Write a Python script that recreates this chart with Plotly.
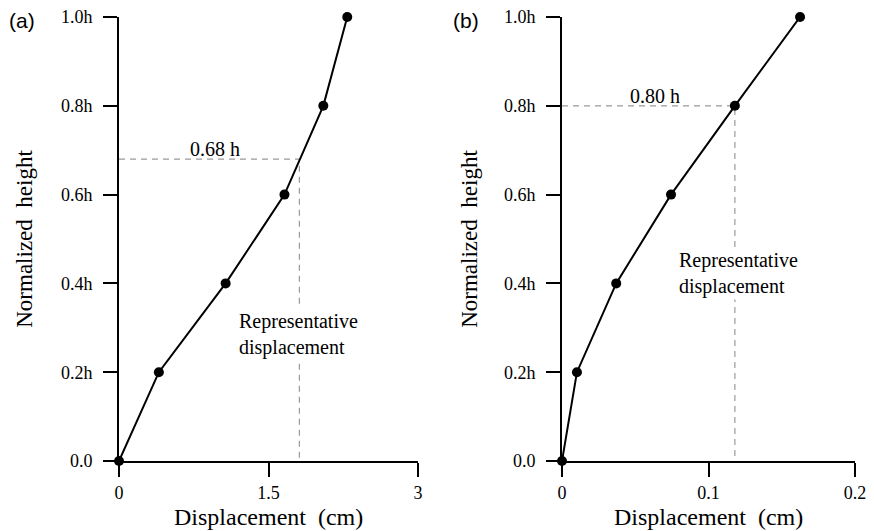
import plotly.graph_objects as go

# Data
heights = [0.0, 0.2, 0.4, 0.6, 0.8, 1.0]
disp_a = [0.0, 0.40, 1.07, 1.66, 2.05, 2.29]
disp_b = [0.0, 0.0102, 0.037, 0.0744, 0.118, 0.1625]
rep_a = (1.81, 0.68)
rep_b = (0.118, 0.80)
ytick_vals = [0.0, 0.2, 0.4, 0.6, 0.8, 1.0]
ytick_text = ["0.0", "0.2h", "0.4h", "0.6h", "0.8h", "1.0h"]
xtick_a = [0, 1.5, 3]
xtick_a_text = ["0", "1.5", "3"]
xtick_b = [0, 0.1, 0.2]
xtick_b_text = ["0", "0.1", "0.2"]

W, H = 874, 531
SERIF = "Liberation Serif, Times New Roman, DejaVu Serif, serif"
SANS = "Liberation Sans, Arial, sans-serif"
SP2 = "\u00a0 "

fig = go.Figure()

for xs, rep, xa, ya in [(disp_a, rep_a, "x", "y"), (disp_b, rep_b, "x2", "y2")]:
    fig.add_trace(go.Scatter(
        x=[0, rep[0], rep[0]], y=[rep[1], rep[1], 0], mode="lines",
        line=dict(color="#9a9a9a", width=1.2, dash="6px,5px"),
        xaxis=xa, yaxis=ya, showlegend=False, hoverinfo="skip"))
    fig.add_trace(go.Scatter(
        x=xs, y=heights, mode="lines+markers",
        line=dict(color="black", width=2),
        marker=dict(color="black", size=10),
        cliponaxis=False, xaxis=xa, yaxis=ya, showlegend=False))

ydom = [1 - 461 / H, 1 - 17 / H]
xdom_a = [119 / W, 418 / W]
xdom_b = [562 / W, 855 / W]
common_axis = dict(showline=True, linecolor="black", linewidth=2,
                   ticks="outside", ticklen=14, tickwidth=2, tickcolor="black",
                   showgrid=False, zeroline=False, automargin=False,
                   tickfont=dict(family=SERIF, size=18, color="black"))
xtitle_font = dict(family=SERIF, size=24, color="black")
ytitle_font = dict(family=SERIF, size=23, color="black")
xtitle = "Displacement" + SP2 + "(cm)"
ytitle = "Normalized" + SP2 + "height"

fig.update_layout(
    template="none",
    width=W, height=H,
    margin=dict(l=0, r=0, t=0, b=0),
    plot_bgcolor="white", paper_bgcolor="white",
    font=dict(family=SERIF, color="black"),
    xaxis=dict(domain=xdom_a, range=[0, 3],
               tickvals=xtick_a, ticktext=xtick_a_text, anchor="y",
               ticklabelstandoff=0, **common_axis),
    yaxis=dict(domain=ydom, range=[0, 1], anchor="x",
               tickvals=ytick_vals, ticktext=ytick_text, ticklabelstandoff=7,
               title=dict(text=ytitle, standoff=22, font=ytitle_font),
               **common_axis),
    xaxis2=dict(domain=xdom_b, range=[0, 0.2],
                tickvals=xtick_b, ticktext=xtick_b_text, anchor="y2",
                ticklabelstandoff=0, **common_axis),
    yaxis2=dict(domain=ydom, range=[0, 1], anchor="x2",
                tickvals=ytick_vals, ticktext=ytick_text, ticklabelstandoff=7,
                title=dict(text=ytitle, standoff=20, font=ytitle_font),
                **common_axis),
)

# x-axis titles
for dom in (xdom_a, xdom_b):
    fig.add_annotation(x=(dom[0] + dom[1]) / 2, y=1 - 517 / H, xref="paper", yref="paper",
                       text=xtitle, showarrow=False, xanchor="center", yanchor="middle",
                       font=xtitle_font)

fig.add_annotation(x=22 / W, y=1 - 21 / H, xref="paper", yref="paper",
                   text="(a)", showarrow=False, xanchor="center", yanchor="middle",
                   font=dict(family=SANS, size=21, color="black"))
fig.add_annotation(x=466 / W, y=1 - 21 / H, xref="paper", yref="paper",
                   text="(b)", showarrow=False, xanchor="center", yanchor="middle",
                   font=dict(family=SANS, size=21, color="black"))

fig.add_annotation(x=0.96, y=rep_a[1], xref="x", yref="y", text="0.68 h",
                   showarrow=False, yanchor="bottom", yshift=-3,
                   font=dict(family=SERIF, size=20, color="black"))
fig.add_annotation(x=0.0635, y=rep_b[1], xref="x2", yref="y2", text="0.80 h",
                   showarrow=False, yanchor="bottom", yshift=-3,
                   font=dict(family=SERIF, size=20, color="black"))

fig.add_annotation(x=1.18, y=0.284, xref="x", yref="y",
                   text="Representative<br>displacement", showarrow=False,
                   xanchor="left", yanchor="middle", align="left",
                   bgcolor="white",
                   font=dict(family=SERIF, size=20, color="black"))
fig.add_annotation(x=0.0785, y=0.423, xref="x2", yref="y2",
                   text="Representative<br>displacement", showarrow=False,
                   xanchor="left", yanchor="middle", align="left",
                   bgcolor="white",
                   font=dict(family=SERIF, size=20, color="black"))

fig.write_html("out.html")
